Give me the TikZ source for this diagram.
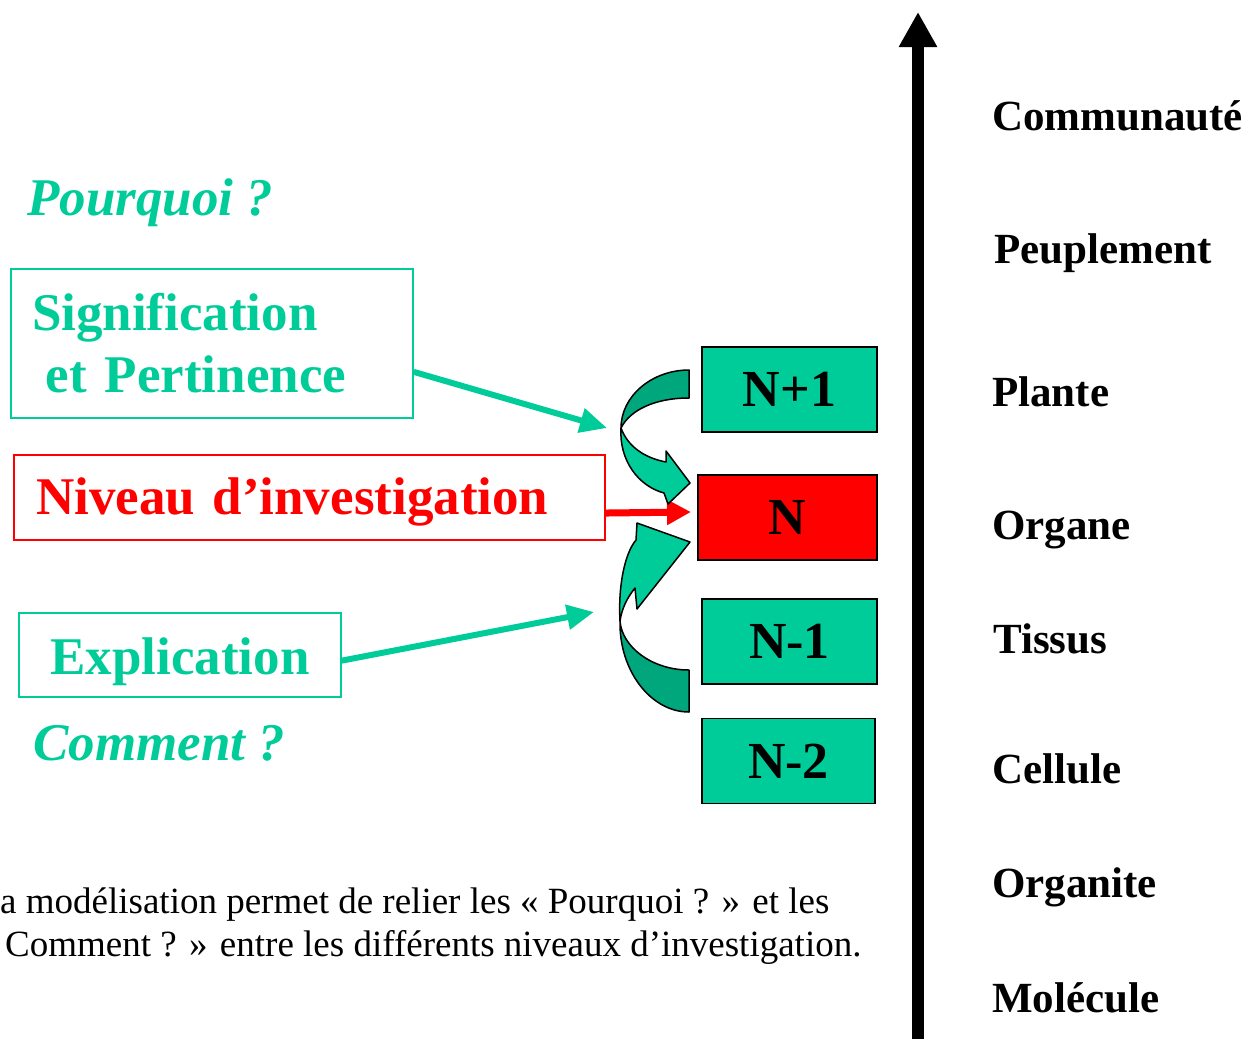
\documentclass[tikz,border=0pt]{standalone}
\usepackage{fontspec}
\setmainfont{Liberation Serif}
\usetikzlibrary{arrows.meta}
\definecolor{tealA}{RGB}{0,204,153}
\definecolor{tealB}{RGB}{0,166,124}
\definecolor{redA}{RGB}{255,0,0}
\begin{document}
\begin{tikzpicture}[x=1pt,y=-1pt,
  bigtxt/.style={font=\fontsize{53}{62}\selectfont\bfseries},
  tealbox/.style={draw=tealA,line width=1.5pt,text=tealA,bigtxt,inner ysep=0pt},
  redbox/.style={draw=redA,line width=1.5pt,text=redA,bigtxt,inner ysep=0pt},
  lvlbox/.style={draw=black,line width=1.5pt,fill=tealA,minimum width=175pt,minimum height=85pt,inner sep=0pt,font=\fontsize{52}{60}\selectfont\bfseries},
  question/.style={anchor=base west,inner sep=0pt,text=tealA,font=\fontsize{53}{60}\selectfont\bfseries\itshape},
  scalelabel/.style={anchor=base west,inner sep=0pt,font=\fontsize{43}{50}\selectfont\bfseries},
  captxt/.style={anchor=base west,inner sep=0pt,font=\fontsize{37}{43}\selectfont},
  tealarrow/.style={draw=tealA,line width=6pt,-{Triangle[length=27pt,width=24pt]}},
  redarrow/.style={draw=redA,line width=7pt,-{Triangle[length=24pt,width=24pt]}},
  backpart/.style={fill=tealB,draw=black,line width=1.5pt,line join=round},
  frontpart/.style={fill=tealA,draw=black,line width=1.5pt,line join=round}]
\useasboundingbox (0,0) rectangle (1258,1039);

% vertical axis
\coordinate (axb) at (918,1039);
\coordinate (axt) at (918,12);
\draw[line width=12pt,-{Triangle[length=35pt,width=36pt]}] (axb) -- (axt);

% scale labels
\node[scalelabel] (l1) at (992,130) {Communauté};
\node[scalelabel] (l2) at (994,263) {Peuplement};
\node[scalelabel] (l3) at (992,406) {Plante};
\node[scalelabel] (l4) at (992,539) {Organe};
\node[scalelabel] (l5) at (993,653) {Tissus};
\node[scalelabel] (l6) at (992,783) {Cellule};
\node[scalelabel] (l7) at (992,897) {Organite};
\node[scalelabel] (l8) at (992,1012) {Molécule};

% left boxes
\node[question] (pq) at (27,215) {Pourquoi ?};
\node[tealbox,minimum width=402pt,minimum height=149pt,text width=380pt,inner xsep=11pt,align=left] (sig) at (212,343.5)
  {\hspace*{10pt}Signification\\\hspace*{24pt}et Pertinence};
\node[redbox,minimum width=591pt,minimum height=85pt,text width=569pt,inner xsep=11pt,align=left,text height=40pt,text depth=6pt] (niv) at (309.5,497.5)
  {\hspace*{11pt}Niveau d’investigation};
\node[tealbox,minimum width=322pt,minimum height=84pt,inner xsep=0pt,text height=45pt,text depth=6pt] (expl) at (180,655) {Explication};
\node[question] (cm) at (33,760) {Comment ?};

% level boxes
\node[lvlbox] (n1) at (789.5,389.5) {N+1};
\node[lvlbox,fill=redA,minimum width=179pt] (n0) at (787.5,517.5) {N};
\node[lvlbox] (nm1) at (789.5,641.5) {N-1};
\node[lvlbox,minimum width=173pt] (nm2) at (788.5,761) {N-2};

% straight arrows
\coordinate (t1) at (607,428);
\coordinate (t2) at (594,612);
\coordinate (t3) at (691,512);
\draw[tealarrow] (sig.-8) -- (t1);
\draw[tealarrow] (expl.-2) -- (t2);
\draw[redarrow] (niv.-3.6) -- (t3);

% upper curved arrow
\filldraw[backpart] (689,370) .. controls (652,370) and (621,396) .. (621,428)
  .. controls (630,410) and (655,398) .. (689,398) -- cycle;
\filldraw[frontpart] (621,428) .. controls (619,460) and (638,486) .. (664,493)
  -- (668,504) -- (690,483) -- (666,451) -- (666,462)
  .. controls (645,458) and (628,447) .. (621,428) -- cycle;

% lower curved arrow
\filldraw[backpart] (689,712) .. controls (651,712) and (619,671) .. (620,621)
  .. controls (622,647) and (652,670) .. (689,670) -- cycle;
\filldraw[frontpart] (620,621) .. controls (618,585) and (625,553) .. (636,540)
  -- (637,523) -- (690,542) -- (637,609) -- (635,588)
  .. controls (627,598) and (622,608) .. (620,621) -- cycle;

% caption
\node[captxt] (cap1) at (0,913) {a modélisation permet de relier les « Pourquoi ? » et les};
\node[captxt] (cap2) at (5,956) {Comment ? » entre les différents niveaux d’investigation.};
\end{tikzpicture}
\end{document}
